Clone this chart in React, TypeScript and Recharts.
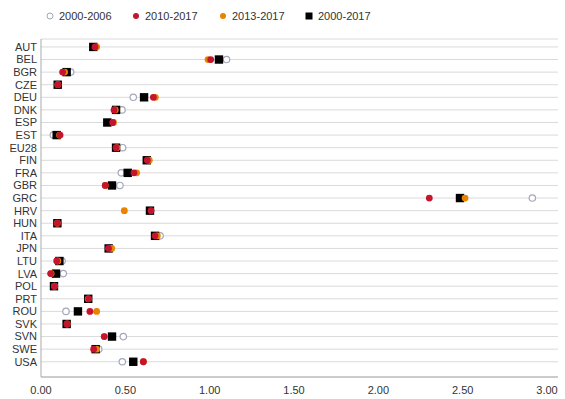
import { ScatterChart, Scatter, XAxis, YAxis, CartesianGrid } from "recharts";

document.body.style.margin = "0";

const COUNTRIES = [
  "AUT", "BEL", "BGR", "CZE", "DEU", "DNK", "ESP", "EST", "EU28", "FIN",
  "FRA", "GBR", "GRC", "HRV", "HUN", "ITA", "JPN", "LTU", "LVA", "POL",
  "PRT", "ROU", "SVK", "SVN", "SWE", "USA",
];

// values per country, same order as COUNTRIES
const P2000_2006 = [
  0.32, 1.1, 0.176, 0.1, 0.547, 0.48, 0.395, 0.073, 0.484, 0.63,
  0.476, 0.468, 2.913, 0.65, 0.1, 0.706, 0.41, 0.125, 0.132, 0.08,
  0.28, 0.148, 0.155, 0.488, 0.342, 0.482,
];
const P2010_2017 = [
  0.32, 1.006, 0.128, 0.1, 0.666, 0.433, 0.425, 0.113, 0.445, 0.63,
  0.551, 0.381, 2.302, 0.652, 0.097, 0.676, 0.4, 0.093, 0.057, 0.08,
  0.283, 0.29, 0.155, 0.375, 0.312, 0.607,
];
const P2013_2017 = [
  0.33, 0.99, 0.14, 0.1, 0.678, 0.44, 0.43, 0.11, 0.45, 0.642,
  0.567, 0.381, 2.514, 0.494, 0.097, 0.69, 0.419, 0.1, 0.06, 0.08,
  0.28, 0.33, 0.155, 0.375, 0.33, 0.607,
];
const P2000_2017 = [
  0.31, 1.055, 0.152, 0.099, 0.611, 0.445, 0.393, 0.093, 0.445, 0.627,
  0.514, 0.421, 2.484, 0.646, 0.097, 0.676, 0.401, 0.109, 0.089, 0.077,
  0.28, 0.219, 0.152, 0.421, 0.324, 0.547,
];
const X_TICKS = [0, 0.5, 1, 1.5, 2, 2.5, 3];

const GRAY = "#a3a7ba";
const RED = "#c4142e";
const ORANGE = "#e98300";
const FONT = "'Liberation Sans', Arial, sans-serif";

const toPoints = (vals: number[]) => vals.map((v, i) => ({ x: v, y: i }));

const OpenCircle = (p: any) => (
  <circle cx={p.cx} cy={p.cy} r={3.2} fill="#fff" stroke={GRAY} strokeWidth={1.2} />
);
const Dot = (color: string) => (p: any) => (
  <circle cx={p.cx} cy={p.cy} r={3.4} fill={color} />
);
const Square = (p: any) => (
  <rect x={p.cx - 4.2} y={p.cy - 4.2} width={8.4} height={8.4} fill="#000" />
);

const LEGEND = [
  { label: "2000-2006", left: 46, kind: "open" },
  { label: "2010-2017", left: 132, kind: RED },
  { label: "2013-2017", left: 219, kind: ORANGE },
  { label: "2000-2017", left: 305, kind: "square" },
];

function Legend() {
  return (
    <>
      {LEGEND.map((l) => (
        <div
          key={l.label}
          style={{
            position: "absolute",
            left: l.left,
            top: 9,
            display: "flex",
            alignItems: "center",
            gap: 5,
            fontFamily: FONT,
            fontSize: 11,
            color: "#333",
            lineHeight: "14px",
          }}
        >
          <svg width={8} height={8}>
            {l.kind === "open" && <circle cx={4} cy={4} r={3} fill="#fff" stroke={GRAY} strokeWidth={1} />}
            {l.kind === "square" && <rect x={0.5} y={0.5} width={7} height={7} fill="#000" />}
            {l.kind !== "open" && l.kind !== "square" && <circle cx={4} cy={4} r={3} fill={l.kind} />}
          </svg>
          <span>{l.label}</span>
        </div>
      ))}
    </>
  );
}

export default function App() {
  return (
    <div style={{ position: "relative", width: 565, height: 399, background: "#fff" }}>
      <Legend />
      <ScatterChart width={565} height={399} margin={{ top: 39, right: 7, bottom: 0, left: 0 }}>
        <CartesianGrid horizontal vertical={false} stroke="#dadada" strokeWidth={1} />
        <XAxis
          type="number"
          dataKey="x"
          domain={[0, 3.065]}
          ticks={X_TICKS}
          tickFormatter={(v: number) => v.toFixed(2)}
          tickLine={false}
          tickSize={0}
          tickMargin={9}
          height={22}
          axisLine={{ stroke: "#aaa" }}
          tick={{ fill: "#333", fontSize: 11, fontFamily: FONT }}
          allowDataOverflow
        />
        <YAxis
          type="number"
          dataKey="y"
          reversed
          domain={[-0.63, 26.21]}
          ticks={COUNTRIES.map((_, i) => i)}
          interval={0}
          tickFormatter={(i: number) => COUNTRIES[i] ?? ""}
          tickLine={false}
          tickSize={0}
          tickMargin={4}
          width={41}
          axisLine={{ stroke: "#aaa" }}
          tick={{ fill: "#333", fontSize: 11, fontFamily: FONT }}
          allowDataOverflow
        />
        <Scatter data={toPoints(P2000_2006)} shape={OpenCircle} isAnimationActive={false} />
        <Scatter data={toPoints(P2000_2017)} shape={Square} isAnimationActive={false} />
        <Scatter data={toPoints(P2013_2017)} shape={Dot(ORANGE)} isAnimationActive={false} />
        <Scatter data={toPoints(P2010_2017)} shape={Dot(RED)} isAnimationActive={false} />
      </ScatterChart>
    </div>
  );
}
